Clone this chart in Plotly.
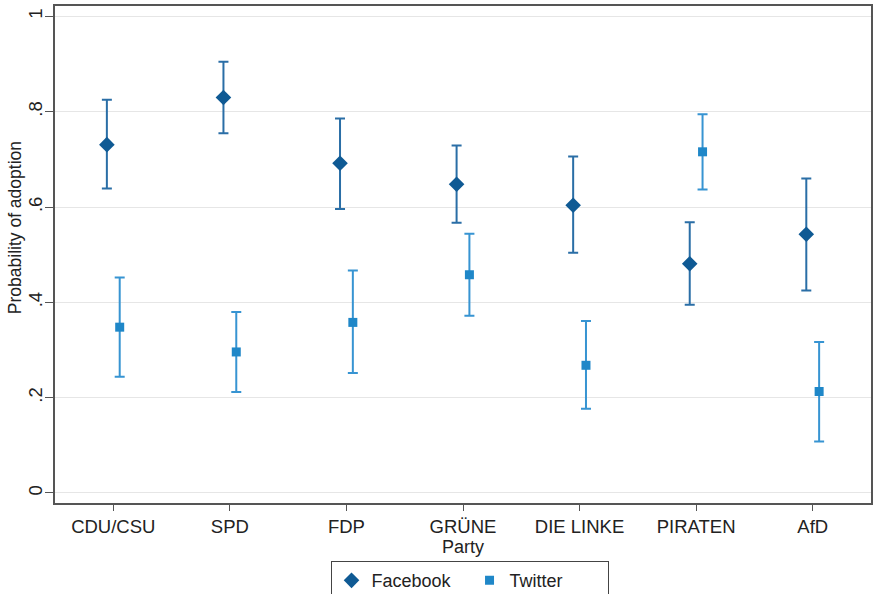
import plotly.graph_objects as go

parties = ["CDU/CSU", "SPD", "FDP", "GRÜNE", "DIE LINKE", "PIRATEN", "AfD"]

fb_est = [0.731, 0.830, 0.692, 0.648, 0.604, 0.481, 0.543]
fb_hi = [0.825, 0.905, 0.786, 0.729, 0.706, 0.568, 0.660]
fb_lo = [0.639, 0.755, 0.596, 0.567, 0.504, 0.395, 0.425]

tw_est = [0.348, 0.296, 0.358, 0.458, 0.268, 0.716, 0.213]
tw_hi = [0.452, 0.380, 0.467, 0.544, 0.361, 0.795, 0.317]
tw_lo = [0.244, 0.212, 0.252, 0.372, 0.177, 0.637, 0.108]

y_ticks = [0, 0.2, 0.4, 0.6, 0.8, 1]
y_tick_labels = ["0", ".2", ".4", ".6", ".8", "1"]

FB_COLOR = "#0f5a94"
FB_BAR = "#2a6ea6"
TW_COLOR = "#1f87c8"
TW_BAR = "#3794d2"
FONT = "Liberation Sans, Arial, sans-serif"

fig = go.Figure()
fig.add_trace(go.Scatter(
    x=parties, y=fb_est, name="Facebook", mode="markers",
    offsetgroup="fb",
    marker=dict(symbol="diamond", size=12, color=FB_COLOR),
    error_y=dict(type="data", symmetric=False,
                 array=[h - e for h, e in zip(fb_hi, fb_est)],
                 arrayminus=[e - l for e, l in zip(fb_est, fb_lo)],
                 color=FB_BAR, thickness=2, width=5),
))
fig.add_trace(go.Scatter(
    x=parties, y=tw_est, name="Twitter", mode="markers",
    offsetgroup="tw",
    marker=dict(symbol="square", size=9, color=TW_COLOR),
    error_y=dict(type="data", symmetric=False,
                 array=[h - e for h, e in zip(tw_hi, tw_est)],
                 arrayminus=[e - l for e, l in zip(tw_est, tw_lo)],
                 color=TW_BAR, thickness=2, width=5),
))

fig.add_annotation(
    text="Probability of adoption", textangle=-90,
    xref="paper", yref="paper", x=-0.049, y=0.553,
    xanchor="center", yanchor="middle", showarrow=False,
    font=dict(size=17.5, family=FONT, color="#222222"),
)

fig.update_layout(
    width=875, height=594,
    margin=dict(l=55, r=4, t=6, b=91, autoexpand=False),
    paper_bgcolor="white", plot_bgcolor="white",
    scattermode="group", scattergap=0.78,
    font=dict(family=FONT, size=18, color="#222222"),
    showlegend=True,
    legend=dict(orientation="h", x=0.508, xanchor="center", y=-0.117, yanchor="top",
                bordercolor="#444444", borderwidth=1, bgcolor="white",
                font=dict(size=18), itemwidth=30, entrywidth=93,
                traceorder="normal"),
    xaxis=dict(
        type="category", categoryorder="array", categoryarray=parties,
        range=[-0.5, 6.5], automargin=True,
        showline=True, linecolor="#555555", linewidth=1.5, mirror=True,
        ticks="outside", ticklen=6, tickcolor="#555555", tickwidth=1,
        showgrid=False, zeroline=False,
        title=dict(text="Party", font=dict(size=18), standoff=0),
        tickfont=dict(size=18.5),
    ),
    yaxis=dict(
        range=[-0.021, 1.022], automargin=False,
        tickvals=y_ticks, ticktext=y_tick_labels, tickangle=-90,
        ticklabelstandoff=-4,
        showline=True, linecolor="#555555", linewidth=1.5, mirror=True,
        ticks="outside", ticklen=8, tickcolor="#555555", tickwidth=1,
        showgrid=True, gridcolor="#e6e6e6", gridwidth=1.2, zeroline=False,
        tickfont=dict(size=18.5),
    ),
)

fig.write_html(
    "out.html",
    config={"displayModeBar": False},
    post_script="document.body.style.margin='0';document.body.style.overflow='hidden';",
)
